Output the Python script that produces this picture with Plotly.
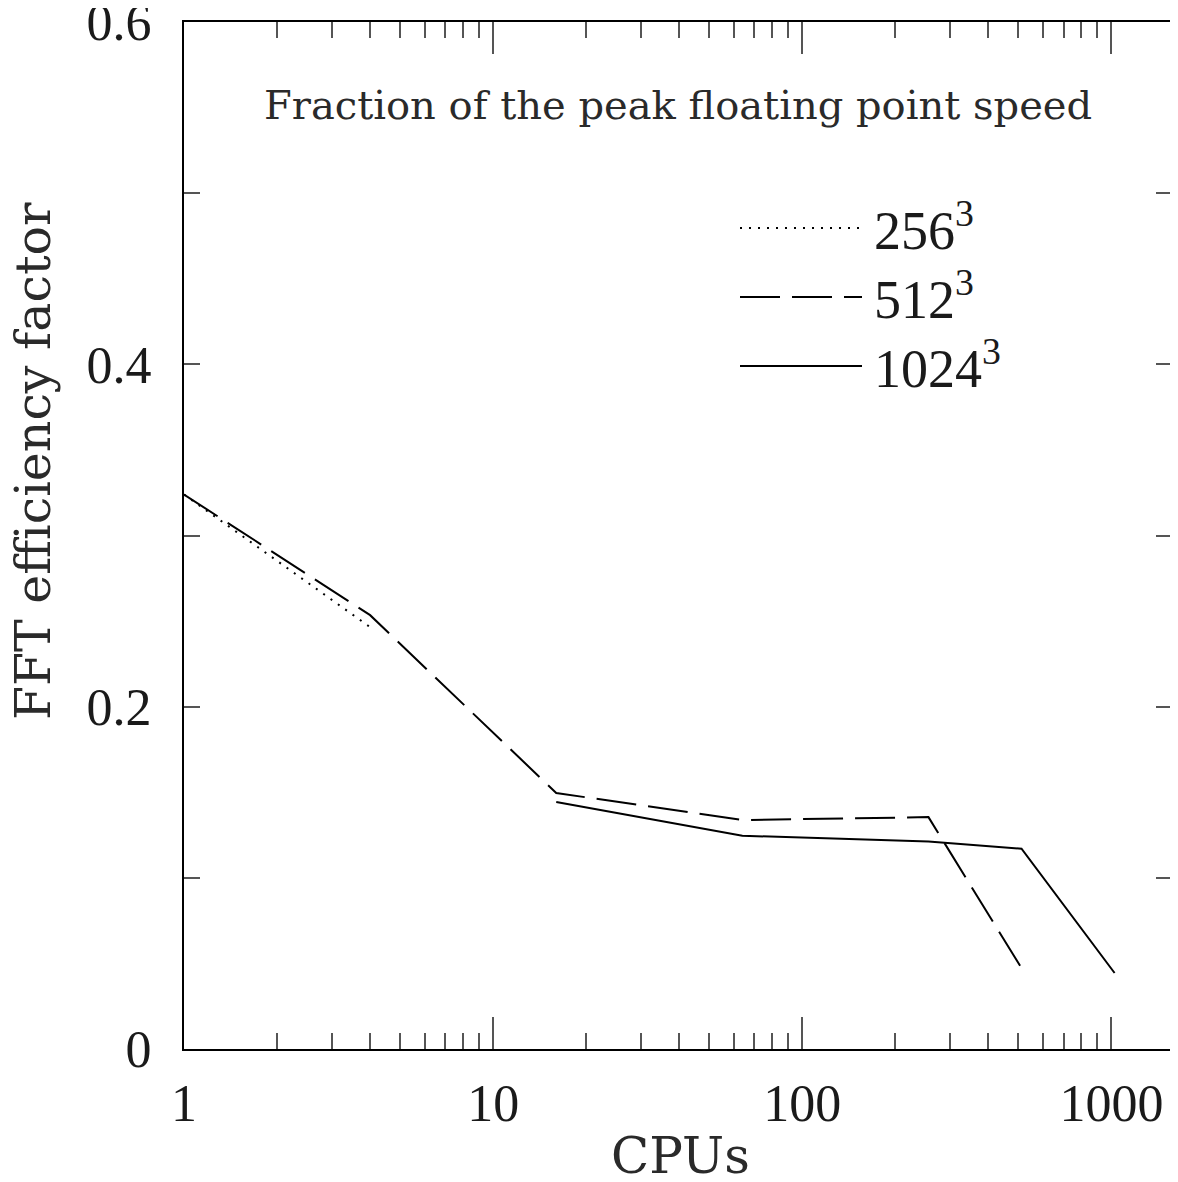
import plotly.graph_objects as go

# Data
cpus_256 = [1, 4]
eff_256 = [0.324, 0.2465]

cpus_512 = [1, 4, 16, 64, 256, 512]
eff_512 = [0.324, 0.2535, 0.1496, 0.1338, 0.1355, 0.0473]

cpus_1024 = [16, 64, 256, 512, 1024]
eff_1024 = [0.1443, 0.1246, 0.1212, 0.117, 0.0444]

legend_labels = ["256<sup>3</sup>", "512<sup>3</sup>", "1024<sup>3</sup>"]
x_ticks = [1, 10, 100, 1000]
x_ticktext = ["1", "10", "100", "1000"]
y_ticks = [0, 0.2, 0.4, 0.6]
y_ticktext = ["0", "0.2", "0.4", "0.6"]

FONT = "Liberation Serif"
TFONT = "DejaVu Serif"
INK = "#1a1a1a"

dots = "2px,7px"
dashes = "40px,12px"

fig = go.Figure()
fig.add_trace(go.Scatter(x=cpus_256, y=eff_256, mode="lines",
                         line=dict(color="black", width=2, dash=dots),
                         showlegend=False))
fig.add_trace(go.Scatter(x=cpus_512, y=eff_512, mode="lines",
                         line=dict(color="black", width=2, dash=dashes),
                         showlegend=False))
fig.add_trace(go.Scatter(x=cpus_1024, y=eff_1024, mode="lines",
                         line=dict(color="black", width=2),
                         showlegend=False))

# page has an 8px body margin; size figure so it fits the window
OFF = 8
WIN_W, WIN_H = 1178, 1182
W, H = WIN_W - OFF, WIN_H - OFF
L, R, T, B = 184 - OFF, 6, 22 - OFF, 133
pw, ph = W - L - R, H - T - B


def px(xp):  # window pixel -> paper x
    return (xp - OFF - L) / pw


def py(yp):  # window pixel -> paper y
    return (H - B - (yp - OFF)) / ph


# Legend (drawn manually to get long line samples)
leg_rows = [228, 297, 366]
leg_dash = [dots, dashes, "solid"]
for lab, yr, d in zip(legend_labels, leg_rows, leg_dash):
    fig.add_shape(type="line", xref="paper", yref="paper",
                  x0=px(740), x1=px(862), y0=py(yr), y1=py(yr),
                  line=dict(color="black", width=2, dash=d))
    fig.add_annotation(xref="paper", yref="paper", x=px(872), y=py(yr - 2),
                       text=lab, showarrow=False, xanchor="left", yanchor="middle",
                       font=dict(family=FONT, size=54, color=INK))

fig.add_annotation(xref="paper", yref="paper", x=px(678), y=py(105),
                   text="Fraction of the peak floating point speed",
                   showarrow=False, xanchor="center", yanchor="middle",
                   font=dict(family=TFONT, size=40, color="#2a2a2a"))

fig.add_annotation(xref="paper", yref="paper", x=px(680), y=py(1156),
                   text="CPUs", showarrow=False, xanchor="center", yanchor="middle",
                   borderpad=0,
                   font=dict(family=TFONT, size=50, color="#2a2a2a"))

fig.add_annotation(xref="paper", yref="paper", x=px(33), y=py(461),
                   text="FFT efficiency factor", showarrow=False, textangle=-90,
                   xanchor="center", yanchor="middle", borderpad=0,
                   font=dict(family=TFONT, size=49, color="#2a2a2a"))

fig.update_xaxes(type="log", range=[0, 3.196],
                 tickvals=x_ticks, ticktext=x_ticktext,
                 ticks="inside", ticklen=32, tickwidth=1.5, tickcolor="#555",
                 minor=dict(ticks="inside", ticklen=16, tickwidth=1.5,
                            tickcolor="#555", dtick="D1", showgrid=False),
                 showline=True, linecolor="black", linewidth=2, mirror="allticks",
                 showgrid=False, zeroline=False, automargin=False,
                 ticklabelstandoff=8, ticklabeloverflow="allow",
                 tickfont=dict(family=FONT, size=52, color=INK))
fig.update_yaxes(range=[0, 0.6001],
                 tickvals=y_ticks, ticktext=y_ticktext,
                 ticks="inside", ticklen=16, tickwidth=1.5, tickcolor="#555",
                 minor=dict(ticks="inside", ticklen=16, tickwidth=1.5,
                            tickcolor="#555", dtick=0.1, showgrid=False),
                 showline=True, linecolor="black", linewidth=2, mirror="allticks",
                 showgrid=False, zeroline=False, automargin=False,
                 ticklabelstandoff=20, ticklabeloverflow="allow",
                 tickfont=dict(family=FONT, size=52, color=INK))

fig.update_layout(width=W, height=H,
                  margin=dict(l=L, r=R, t=T, b=B, autoexpand=False),
                  paper_bgcolor="white", plot_bgcolor="white",
                  showlegend=False)

fig.write_html("out.html")
